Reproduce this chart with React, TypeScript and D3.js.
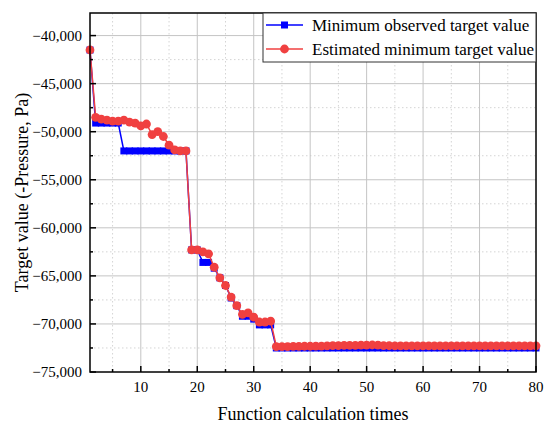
import * as d3 from 'd3'

// iteration index (function calculation times)
const iterations = d3.range(1, 81)

const minObserved = [
  -41500, -49100, -49100, -49100, -49100, -49100, -52000, -52000, -52000, -52000,
  -52000, -52000, -52000, -52000, -52000, -52000, -52000, -52000, -62300, -62300,
  -63600, -63600, -64200, -65200, -66000, -67300, -68100, -69200, -69200, -69500,
  -70100, -70100, -70100, -72500, -72500, -72500, -72500, -72500, -72500, -72500,
  -72500, -72500, -72500, -72500, -72500, -72500, -72500, -72500, -72500, -72500,
  -72500, -72500, -72500, -72500, -72500, -72500, -72500, -72500, -72500, -72500,
  -72500, -72500, -72500, -72500, -72500, -72500, -72500, -72500, -72500, -72500,
  -72500, -72500, -72500, -72500, -72500, -72500, -72500, -72500, -72500, -72500,
]

const estimatedMin = [
  -41500, -48500, -48700, -48800, -48900, -48900, -48800, -49000, -49100, -49400,
  -49200, -50300, -50000, -50500, -51400, -51900, -52000, -52000, -62300, -62300,
  -62500, -62700, -64100, -65200, -66000, -67200, -68100, -69000, -68850, -69300,
  -69800, -69800, -69700, -72350, -72350, -72350, -72340, -72330, -72320, -72320,
  -72300, -72300, -72280, -72260, -72250, -72240, -72230, -72220, -72210, -72200,
  -72190, -72210, -72250, -72270, -72280, -72280, -72280, -72280, -72280, -72280,
  -72280, -72280, -72280, -72280, -72280, -72280, -72280, -72280, -72280, -72280,
  -72280, -72280, -72280, -72280, -72280, -72280, -72280, -72280, -72280, -72280,
]

const xTicks = [10, 20, 30, 40, 50, 60, 70, 80]
const xMinorTicks = [5, 15, 25, 35, 45, 55, 65, 75]
const yTicks = [-40000, -45000, -50000, -55000, -60000, -65000, -70000, -75000]
const yMinorTicks = [-42500, -47500, -52500, -57500, -62500, -67500, -72500]

const seriesNames = ['Minimum observed target value', 'Estimated minimum target value']

const W = 550
const H = 429
const left = 90
const right = 536
const top = 13
const bottom = 372

const BLUE = '#0000ff'
const RED = '#f04040'
const FONT = "'Liberation Serif', 'DejaVu Serif', serif"

export default function App() {
  const x = d3.scaleLinear().domain([1, 80]).range([left, right])
  const y = d3.scaleLinear().domain([-75000, -37650]).range([bottom, top])
  const fmt = d3.format(',')

  const line = d3.line<number>()
    .x((_, i) => x(iterations[i]))
    .y(d => y(d))

  return (
    <svg width={W} height={H}
      style={{ position: 'absolute', left: 0, top: 0, background: '#fff', fontFamily: FONT }}>
      {/* grid */}
      {xMinorTicks.map(t => (
        <line key={'xm' + t} x1={x(t)} x2={x(t)} y1={top} y2={bottom}
          stroke="#d4d4d4" strokeWidth={1} strokeDasharray="1.5,2.5" />
      ))}
      {yMinorTicks.map(t => (
        <line key={'ym' + t} x1={left} x2={right} y1={y(t)} y2={y(t)}
          stroke="#d4d4d4" strokeWidth={1} strokeDasharray="1.5,2.5" />
      ))}
      {xTicks.slice(0, -1).map(t => (
        <line key={'xg' + t} x1={x(t)} x2={x(t)} y1={top} y2={bottom} stroke="#c4c4c4" strokeWidth={1} />
      ))}
      {yTicks.slice(0, -1).map(t => (
        <line key={'yg' + t} x1={left} x2={right} y1={y(t)} y2={y(t)} stroke="#c4c4c4" strokeWidth={1} />
      ))}

      {/* minimum observed */}
      <path d={line(minObserved) ?? ''} fill="none" stroke={BLUE} strokeWidth={1.5} />
      {minObserved.map((v, i) => (
        <rect key={'b' + i} x={x(iterations[i]) - 3.5} y={y(v) - 3.5} width={7} height={7} fill={BLUE} />
      ))}

      {/* estimated minimum */}
      <path d={line(estimatedMin) ?? ''} fill="none" stroke={RED} strokeWidth={1.5} />
      {estimatedMin.map((v, i) => (
        <circle key={'r' + i} cx={x(iterations[i])} cy={y(v)} r={4.4} fill={RED} />
      ))}

      {/* frame */}
      <rect x={left} y={top} width={right - left} height={bottom - top} fill="none" stroke="#000" strokeWidth={1.5} />

      {/* x ticks */}
      {xTicks.map(t => (
        <g key={'xt' + t}>
          <line x1={x(t)} x2={x(t)} y1={bottom} y2={bottom - 6} stroke="#000" strokeWidth={1.5} />
          <text x={x(t)} y={bottom + 20} fontSize={15} textAnchor="middle" fill="#000">{t}</text>
        </g>
      ))}
      {xMinorTicks.map(t => (
        <line key={'xmt' + t} x1={x(t)} x2={x(t)} y1={bottom} y2={bottom - 3} stroke="#000" strokeWidth={1.5} />
      ))}

      {/* y ticks */}
      {yTicks.map(t => (
        <g key={'yt' + t}>
          <line x1={left} x2={left + 6} y1={y(t)} y2={y(t)} stroke="#000" strokeWidth={1.5} />
          <text x={left - 8} y={y(t) + 5} fontSize={15} textAnchor="end" fill="#000">{fmt(t)}</text>
        </g>
      ))}
      {yMinorTicks.map(t => (
        <line key={'ymt' + t} x1={left} x2={left + 3} y1={y(t)} y2={y(t)} stroke="#000" strokeWidth={1.5} />
      ))}

      {/* axis titles */}
      <text x={(left + right) / 2} y={420} fontSize={18} textAnchor="middle" fill="#000">
        Function calculation times
      </text>
      <text transform={`translate(28, ${(top + bottom) / 2}) rotate(-90)`} fontSize={18} textAnchor="middle" fill="#000">
        Target value (-Pressure, Pa)
      </text>

      {/* legend */}
      <g>
        <rect x={263} y={top} width={right - 263} height={49} fill="#fff" stroke="#333" strokeWidth={1} />
        <line x1={266} x2={303} y1={25} y2={25} stroke={BLUE} strokeWidth={1.5} />
        <rect x={281} y={21.5} width={7} height={7} fill={BLUE} />
        <text x={312} y={31} fontSize={17} fill="#000">{seriesNames[0]}</text>
        <line x1={266} x2={303} y1={49} y2={49} stroke={RED} strokeWidth={1.5} />
        <circle cx={284.5} cy={49} r={4.4} fill={RED} />
        <text x={312} y={55} fontSize={17} fill="#000">{seriesNames[1]}</text>
      </g>
    </svg>
  )
}
